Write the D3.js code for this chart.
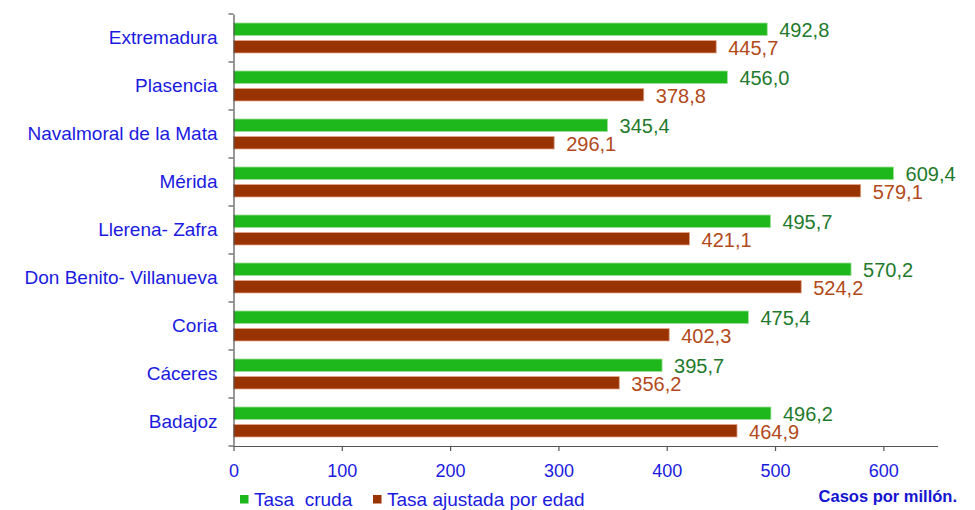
<!DOCTYPE html>
<html><head><meta charset="utf-8">
<script src="https://cdn.jsdelivr.net/npm/d3@7"></script>
<style>body{margin:0;background:#fff;} svg{display:block;font-family:"Liberation Sans",Arial,sans-serif;}</style>
</head><body>
<svg id="c" width="975" height="510"></svg>
<script>
const categories = ["Extremadura","Plasencia","Navalmoral de la Mata","Mérida","Llerena- Zafra","Don Benito- Villanueva","Coria","Cáceres","Badajoz"];
const tasaCruda = [492.8,456.0,345.4,609.4,495.7,570.2,475.4,395.7,496.2];
const tasaAjustada = [445.7,378.8,296.1,579.1,421.1,524.2,402.3,356.2,464.9];
const xTicks = [0,100,200,300,400,500,600];
const seriesNames = ["Tasa  cruda","Tasa ajustada por edad"];

const svg = d3.select("#c");
const x = d3.scaleLinear().domain([0,650]).range([233.5,937.5]);
const y = d3.scaleBand().domain(categories).range([14,446]);
const fmt = v => v.toFixed(1).replace(".", ",");
const blue = "#1a1ae0";

// bars
const g = svg.append("g");
categories.forEach((c,i)=>{
  const y0 = y(c);
  g.append("rect").attr("x",x(0)).attr("y",y0+9).attr("width",x(tasaCruda[i])-x(0)).attr("height",12.5)
    .attr("fill","#1fb81c").attr("stroke","#9fe09a").attr("stroke-width",0.8);
  g.append("rect").attr("x",x(0)).attr("y",y0+26.5).attr("width",x(tasaAjustada[i])-x(0)).attr("height",12.5)
    .attr("fill","#993300").attr("stroke","#e0a890").attr("stroke-width",0.8);
  g.append("text").attr("x",x(tasaCruda[i])+12).attr("y",y0+16).attr("dy","0.36em")
    .attr("font-size",20).attr("fill","#1f7a2c").text(fmt(tasaCruda[i]));
  g.append("text").attr("x",x(tasaAjustada[i])+12).attr("y",y0+34).attr("dy","0.36em")
    .attr("font-size",20).attr("fill","#b24a1c").text(fmt(tasaAjustada[i]));
});

// y axis
const yAxis = d3.axisLeft(y).tickSize(0).tickFormat(d=>d);
const ya = svg.append("g").attr("transform",`translate(${x(0)},0)`).call(yAxis);
ya.select(".domain").attr("stroke","#555").attr("stroke-width",1.2);
ya.selectAll("text").attr("font-size",19).attr("fill",blue).attr("x",-16).attr("dy","0.3em").attr("font-family","Liberation Sans, Arial, sans-serif");
// tick marks at band boundaries
const bounds = categories.map(c=>y(c)).concat([y.range()[1]]);
ya.selectAll(".bt").data(bounds).enter().append("line").attr("class","bt")
  .attr("x1",-5).attr("x2",0).attr("y1",d=>d).attr("y2",d=>d).attr("stroke","#555").attr("stroke-width",1.2);

// x axis
const xAxis = d3.axisBottom(x).tickValues(xTicks).tickSize(5).tickSizeOuter(0).tickPadding(13);
const xa = svg.append("g").attr("transform",`translate(0,${y.range()[1]})`).call(xAxis);
xa.select(".domain").attr("stroke","#555").attr("stroke-width",1.2);
xa.selectAll(".tick line").attr("stroke","#555").attr("stroke-width",1.2);
xa.selectAll("text").attr("font-size",18).attr("fill",blue).attr("font-family","Liberation Sans, Arial, sans-serif");

// legend
const leg = svg.append("g");
const legX = [240,373];
const legC = ["#1fb81c","#993300"];
seriesNames.forEach((n,i)=>{
  leg.append("rect").attr("x",legX[i]).attr("y",495).attr("width",8.5).attr("height",8.5).attr("fill",legC[i]);
  leg.append("text").attr("x",legX[i]+14).attr("y",505.5).attr("font-size",19).attr("fill",blue).style("white-space","pre").text(n);
});
svg.append("text").attr("x",957).attr("y",502).attr("text-anchor","end").attr("font-size",16.5).attr("font-weight","bold").attr("fill","#1414d0").text("Casos por millón.");
</script>
</body></html>
